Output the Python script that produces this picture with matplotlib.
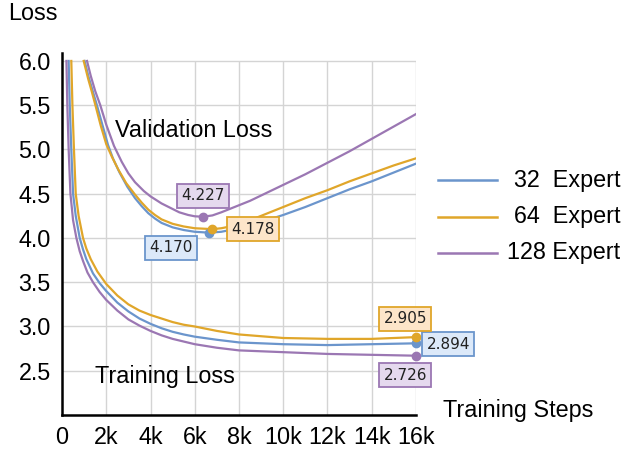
import numpy as np
import matplotlib
matplotlib.use("Agg")
import matplotlib.pyplot as plt
from matplotlib.lines import Line2D

plt.rcParams["font.family"] = ["Liberation Sans", "DejaVu Sans"]

# =========================
# data (steps in k)
# =========================
SERIES = ["32  Expert", "64  Expert", "128 Expert"]
COLORS = ["#6b95cc", "#e0a62a", "#9b77b3"]
BOX_FACE = ["#dce9f9", "#fde5c9", "#e5d9ee"]

val32_x = [1.02, 1.2, 1.4, 1.6, 1.8, 2.08, 2.3, 2.6, 2.95, 3.3, 3.6, 3.9, 4.2, 4.5,
           5.0, 5.5, 6.0, 6.65, 7.2, 7.6, 8.0, 8.5, 9.0, 9.5, 10, 11, 12, 13, 14, 15, 16]
val32_y = [6.0, 5.82, 5.65, 5.48, 5.3, 5.05, 4.9, 4.74, 4.58, 4.45, 4.36, 4.28, 4.22, 4.17,
           4.12, 4.09, 4.07, 4.06, 4.07, 4.09, 4.11, 4.14, 4.18, 4.22, 4.26, 4.35, 4.45,
           4.55, 4.64, 4.74, 4.84]

val64_x = [0.98, 1.18, 1.35, 1.51, 1.75, 2.0, 2.25, 2.55, 2.9, 3.3, 3.6, 3.9, 4.2, 4.5,
           5.0, 5.5, 6.0, 6.8, 7.2, 7.6, 8.0, 8.5, 9.0, 9.5, 10, 11, 12, 13, 14, 15, 16]
val64_y = [6.0, 5.8, 5.65, 5.5, 5.27, 5.06, 4.92, 4.77, 4.62, 4.49, 4.40, 4.32, 4.26, 4.21,
           4.16, 4.13, 4.11, 4.10, 4.11, 4.13, 4.16, 4.2, 4.25, 4.3, 4.35, 4.45, 4.54,
           4.64, 4.73, 4.82, 4.90]

val128_x = [1.13, 1.3, 1.5, 1.73, 2.0, 2.35, 2.7, 3.0, 3.3, 3.7, 4.0, 4.5, 4.9, 5.3,
            5.7, 6.0, 6.38, 6.8, 7.2, 7.6, 8.0, 8.5, 9.0, 9.5, 10, 11, 12, 13, 14, 15, 16]
val128_y = [6.0, 5.83, 5.66, 5.5, 5.28, 5.04, 4.86, 4.73, 4.63, 4.53, 4.47, 4.39, 4.34, 4.29,
            4.26, 4.245, 4.24, 4.255, 4.29, 4.33, 4.37, 4.42, 4.48, 4.54, 4.6, 4.72, 4.85,
            4.98, 5.12, 5.26, 5.40]

tr32_x = [0.3, 0.35, 0.42, 0.5, 0.62, 0.8, 0.95, 1.1, 1.4, 1.7, 2.0, 2.5, 3.0, 3.5, 4.0,
          4.5, 5.0, 5.5, 6, 7, 8, 9, 10, 12, 14, 16]
tr32_y = [6.0, 5.5, 5.0, 4.5, 4.25, 4.0, 3.87, 3.76, 3.6, 3.49, 3.4, 3.27, 3.17, 3.09, 3.03,
          2.98, 2.94, 2.91, 2.885, 2.85, 2.82, 2.81, 2.80, 2.79, 2.80, 2.81]

tr64_x = [0.42, 0.47, 0.54, 0.62, 0.75, 0.95, 1.1, 1.3, 1.6, 2.0, 2.5, 3.0, 3.5, 4.0, 4.5,
          5.0, 5.5, 6.0, 7.0, 8.0, 9, 10, 12, 14, 16]
tr64_y = [6.0, 5.5, 5.0, 4.5, 4.25, 4.0, 3.88, 3.76, 3.62, 3.48, 3.35, 3.25, 3.18, 3.13,
          3.09, 3.05, 3.02, 3.0, 2.95, 2.91, 2.89, 2.87, 2.86, 2.86, 2.88]

tr128_x = [0.2, 0.24, 0.3, 0.38, 0.5, 0.65, 0.8, 0.95, 1.15, 1.4, 1.7, 2.0, 2.5, 3.0, 3.5,
           4.0, 4.5, 5, 5.5, 6, 7, 8, 9, 10, 12, 14, 16]
tr128_y = [6.0, 5.5, 5.0, 4.5, 4.2, 4.0, 3.85, 3.74, 3.61, 3.5, 3.39, 3.3, 3.18, 3.08,
           3.01, 2.95, 2.9, 2.86, 2.83, 2.80, 2.76, 2.73, 2.72, 2.71, 2.69, 2.68, 2.67]

VAL_LABELS = ["4.170", "4.178", "4.227"]
TRAIN_LABELS = ["2.894", "2.905", "2.726"]

XTICKS = [0, 2, 4, 6, 8, 10, 12, 14, 16]
XTICK_LABELS = ["0", "2k", "4k", "6k", "8k", "10k", "12k", "14k", "16k"]
YTICKS = [2.5, 3.0, 3.5, 4.0, 4.5, 5.0, 5.5, 6.0]

val_series = [(val32_x, val32_y), (val64_x, val64_y), (val128_x, val128_y)]
tr_series = [(tr32_x, tr32_y), (tr64_x, tr64_y), (tr128_x, tr128_y)]

# label box positions (data coords), per series
VAL_BOX_POS = [(4.93, 3.887), (8.62, 4.10), (6.36, 4.475)]
TR_BOX_POS = [(17.46, 2.80), (15.52, 3.085), (15.52, 2.45)]

# =========================
# plot
# =========================
fig = plt.figure(figsize=(6.22, 4.49), dpi=100)
ax = fig.add_axes([0.0997, 0.0757, 0.5691, 0.8063])

ax.set_xlim(0, 16)
ax.set_ylim(2.0, 6.09)

# grid
for y in YTICKS:
    ax.axhline(y, color="#d4d4d4", lw=1.0, zorder=0)
ax.vlines(XTICKS[1:], 2.0, 6.0, color="#d4d4d4", lw=1.0, zorder=0)

for i in range(3):
    vx, vy = val_series[i]
    tx, ty = tr_series[i]
    ax.plot(vx, vy, color=COLORS[i], lw=1.6, zorder=3)
    ax.plot(tx, ty, color=COLORS[i], lw=1.6, zorder=3)

    # minimum of validation curve
    k = int(np.argmin(vy))
    ax.plot(vx[k], vy[k], "o", color=COLORS[i], ms=6, zorder=4)
    # final training point
    ax.plot(tx[-1], ty[-1], "o", color=COLORS[i], ms=6, zorder=4, clip_on=False)

    for lab, pos in [(VAL_LABELS[i], VAL_BOX_POS[i]), (TRAIN_LABELS[i], TR_BOX_POS[i])]:
        ax.text(pos[0], pos[1], lab, ha="center", va="center", fontsize=11,
                family="DejaVu Sans", color="#222222", zorder=5, clip_on=False,
                bbox=dict(boxstyle="square,pad=0.28", fc=BOX_FACE[i],
                          ec=COLORS[i], lw=1.3))

ax.text(2.4, 5.21, "Validation Loss", fontsize=16.8, ha="left", va="center")
ax.text(1.49, 2.44, "Training Loss", fontsize=16.8, ha="left", va="center")

# axes styling
for s in ["top", "right"]:
    ax.spines[s].set_visible(False)
for s in ["left", "bottom"]:
    ax.spines[s].set_linewidth(1.8)
    ax.spines[s].set_color("black")

ax.set_xticks(XTICKS)
ax.set_xticklabels(XTICK_LABELS)
ax.set_yticks(YTICKS)
ax.set_yticklabels([f"{v:.1f}" for v in YTICKS])
ax.tick_params(length=0, labelsize=16.8, pad=8)

fig.text(0.013, 0.969, "Loss", fontsize=16.8, ha="left", va="center")
fig.text(0.712, 0.085, "Training Steps", fontsize=16.8, ha="left", va="center")

# legend drawn by hand so the "Expert" words line up
leg_y = [0.599, 0.517, 0.437]
for i in range(3):
    fig.add_artist(Line2D([0.704, 0.799], [leg_y[i], leg_y[i]],
                          transform=fig.transFigure, color=COLORS[i], lw=1.8))
    fig.text(0.997, leg_y[i], SERIES[i], fontsize=16.8, ha="right", va="center")

fig.savefig("out.png", dpi=100)
